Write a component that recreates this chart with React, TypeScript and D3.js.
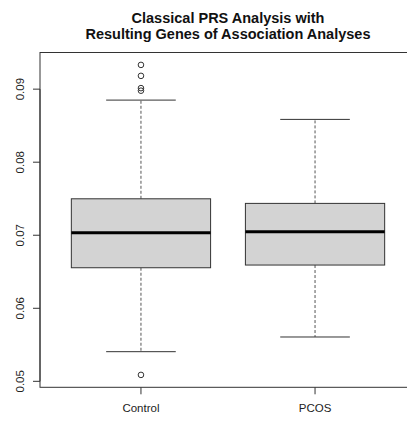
import React from "react";
import * as d3 from "d3";

// PRS scores summarised per group
const groups = ["Control", "PCOS"];
const lowerWhisker = [0.05406, 0.05607];
const q1 = [0.06555, 0.06592];
const medians = [0.07034, 0.07048];
const q3 = [0.07499, 0.07436];
const upperWhisker = [0.0885, 0.08586];
const outliers: number[][] = [
  [0.09332, 0.09182, 0.09014, 0.08979, 0.05088],
  [],
];
const yTicks = [0.05, 0.06, 0.07, 0.08, 0.09];
const titleLines = [
  "Classical PRS Analysis with",
  "Resulting Genes of Association Analyses",
];

const W = 407;
const H = 421;
const plot = { left: 40, right: 416, top: 52.5, bottom: 387.3 };

export default function App() {
  const allVals = [...lowerWhisker, ...upperWhisker, ...outliers.flat()];
  const lo = d3.min(allVals) as number;
  const hi = d3.max(allVals) as number;
  const pad = (hi - lo) * 0.04;
  const y = d3
    .scaleLinear()
    .domain([lo - pad, hi + pad])
    .range([plot.bottom, plot.top]);
  const xPad = (groups.length) * 0.04;
  const x = d3
    .scaleLinear()
    .domain([0.5 - xPad, groups.length + 0.5 + xPad])
    .range([plot.left, plot.right]);
  const unit = x(1) - x(0);
  const boxW = 0.8 * unit;
  const capW = boxW / 2;
  const font = "'Liberation Sans', Arial, Helvetica, sans-serif";
  const stroke = "#333";

  return (
    <svg
      width={W}
      height={H}
      style={{ position: "absolute", left: 0, top: 0, background: "#fff" }}
      fontFamily={font}
    >
      {/* title */}
      {titleLines.map((t, i) => (
        <text
          key={i}
          x={(plot.left + plot.right) / 2}
          y={23 + i * 15.5}
          textAnchor="middle"
          fontWeight="bold"
          fontSize={14.5}
          fill="#111"
        >
          {t}
        </text>
      ))}

      {groups.map((g, i) => {
        const cx = x(i + 1);
        return (
          <g key={g}>
            {/* whiskers */}
            <line
              x1={cx}
              x2={cx}
              y1={y(q3[i])}
              y2={y(upperWhisker[i])}
              stroke="#555"
              strokeDasharray="3,2"
            />
            <line
              x1={cx}
              x2={cx}
              y1={y(q1[i])}
              y2={y(lowerWhisker[i])}
              stroke="#555"
              strokeDasharray="3,2"
            />
            <line
              x1={cx - capW / 2}
              x2={cx + capW / 2}
              y1={y(upperWhisker[i])}
              y2={y(upperWhisker[i])}
              stroke={stroke}
            />
            <line
              x1={cx - capW / 2}
              x2={cx + capW / 2}
              y1={y(lowerWhisker[i])}
              y2={y(lowerWhisker[i])}
              stroke={stroke}
            />
            {/* box */}
            <rect
              x={cx - boxW / 2}
              y={y(q3[i])}
              width={boxW}
              height={y(q1[i]) - y(q3[i])}
              fill="#d3d3d3"
              stroke={stroke}
            />
            <line
              x1={cx - boxW / 2}
              x2={cx + boxW / 2}
              y1={y(medians[i])}
              y2={y(medians[i])}
              stroke="#000"
              strokeWidth={3}
            />
            {outliers[i].map((v, j) => (
              <circle
                key={j}
                cx={cx}
                cy={y(v)}
                r={2.8}
                fill="none"
                stroke={stroke}
                strokeWidth={1}
              />
            ))}
            {/* x tick + label */}
            <line
              x1={cx}
              x2={cx}
              y1={plot.bottom}
              y2={plot.bottom + 7}
              stroke={stroke}
            />
            <text
              x={cx}
              y={412}
              textAnchor="middle"
              fontSize={11.5}
              fill="#222"
            >
              {g}
            </text>
          </g>
        );
      })}

      {/* y axis */}
      <line
        x1={plot.left}
        x2={plot.left}
        y1={y(yTicks[0])}
        y2={y(yTicks[yTicks.length - 1])}
        stroke={stroke}
      />
      {yTicks.map((t) => (
        <g key={t}>
          <line
            x1={plot.left - 7}
            x2={plot.left}
            y1={y(t)}
            y2={y(t)}
            stroke={stroke}
          />
          <text
            transform={`translate(23.5,${y(t)}) rotate(-90)`}
            textAnchor="middle"
            fontSize={11.5}
            fill="#222"
          >
            {t.toFixed(2)}
          </text>
        </g>
      ))}

      {/* frame */}
      <rect
        x={plot.left}
        y={plot.top}
        width={plot.right - plot.left}
        height={plot.bottom - plot.top}
        fill="none"
        stroke={stroke}
      />
    </svg>
  );
}
